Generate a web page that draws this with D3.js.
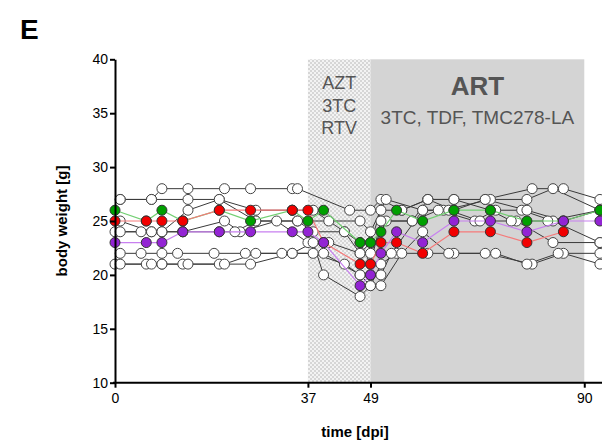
<!DOCTYPE html>
<html>
<head>
<meta charset="utf-8">
<script src="https://cdn.jsdelivr.net/npm/d3@7"></script>
<style>
  body { margin: 0; background: #fff; }
  svg { display: block; font-family: "Liberation Sans", Arial, sans-serif; }
</style>
</head>
<body>
<div id="chart"></div>
<script>
// measurement days of the coloured animals
var coloredDays = [0, 6, 9, 13, 20, 26, 34, 37, 40, 47, 49, 51, 54, 59, 65, 72, 79, 86, 93];
var greenWeights = [26, 25, 26, 25, 26, 25, 26, 25, 26, 23, 23, 24, 26, 25, 26, 26, 25, 25, 26];
var redWeights = [25, 25, 25, 25, 26, 26, 26, 26, 23, 21, 21, 23, 23, 22, 24, 24, 23, 24];
var purpleWeights = [23, 23, 23, 24, 24, 24, 24, 24, 23, 19, 20, 22, 24, 23, 25, 25, 24, 25, 25];

// other animals: [day, weight]
var mouse1 = [[1,27],[7,27],[9,28],[14,28],[21,28],[26,28],[34,28],[35,28],[45,26],[49,26],[51,27],[55,26],[60,27],[65,27],[71,27],[80,28],[86,28],[93,27]];
var mouse2 = [[1,25],[7,24],[9,24],[14,26],[20,27],[27,25],[35,25],[41,25],[47,25],[49,24],[52,27],[59,26],[63,26],[72,27],[79,27],[84,28],[93,26]];
var mouse3 = [[0,24],[5,24],[9,24],[13,24],[21,25],[24,24],[31,25],[37,23],[41,23],[47,22],[49,22],[52,25],[57,25],[62,26],[69,25],[73,26],[78,26],[84,25],[93,23]];
var mouse4 = [[1,22],[5,22],[9,22],[12,22],[19,22],[25,22],[32,22],[38,22],[44,21],[47,20],[49,19],[51,21],[54,22],[60,22],[65,22],[71,22],[80,21],[86,22],[93,21]];
var mouse5 = [[0,21],[6,21],[9,21],[13,21],[20,21],[26,21],[34,22],[38,23],[40,20],[47,18],[49,19],[51,19],[55,22],[59,24],[64,22],[73,22],[79,21],[85,22],[93,22]];
var mouse6 = [[1,21],[7,21],[9,21],[14,21],[21,21],[27,22],[34,22],[40,22],[47,20],[49,20],[51,20],[53,22],[59,26],[64,26],[70,25],[77,25],[84,23],[93,23]];
var mouse7 = [[1,24],[7,24],[9,24],[13,24],[20,24],[23,24],[27,25],[35,25],[38,24],[44,24],[47,23],[49,21],[51,25],[57,25],[60,27],[65,27],[72,26],[76,25],[83,25],[93,26]];
var mouse8 = [[1,27],[7,27],[14,27],[20,27],[27,26],[34,26],[38,26],[44,24],[47,22],[49,23],[51,26],[55,26],[60,27],[65,26],[71,27],[79,26],[86,25],[93,26]];

var yTicks = [10, 15, 20, 25, 30, 35, 40];
var xTicks = [0, 37, 49, 90];

var width = 602, height = 442;

var svg = d3.select("#chart")
  .append("svg")
    .attr("width", width)
    .attr("height", height);

var x = d3.scaleLinear().domain([0, 93.4]).range([115, 602]);
var y = d3.scaleLinear().domain([10, 40]).range([382.7, 59.3]);

// checkered pattern for first treatment period
var defs = svg.append("defs");
var pat = defs.append("pattern")
    .attr("id", "checker")
    .attr("width", 4).attr("height", 4)
    .attr("patternUnits", "userSpaceOnUse");
pat.append("rect").attr("width", 4).attr("height", 4).attr("fill", "#f3f3f3");
pat.append("rect").attr("width", 2).attr("height", 2).attr("fill", "#d6d6d6");
pat.append("rect").attr("x", 2).attr("y", 2).attr("width", 2).attr("height", 2).attr("fill", "#d6d6d6");

svg.append("rect")
    .attr("x", x(37)).attr("y", y(40))
    .attr("width", x(49) - x(37)).attr("height", y(10) - y(40))
    .attr("fill", "url(#checker)");
svg.append("rect")
    .attr("x", x(49)).attr("y", y(40))
    .attr("width", x(90) - x(49)).attr("height", y(10) - y(40))
    .attr("fill", "#d4d4d4");

// labels of the treatment periods
var cx1 = (x(37) + x(49)) / 2;
["AZT", "3TC", "RTV"].forEach(function(t, i) {
  svg.append("text")
    .attr("x", cx1).attr("y", 89 + i * 22.5)
    .attr("text-anchor", "middle")
    .attr("font-size", 18)
    .attr("fill", "#555")
    .text(t);
});
var cx2 = (x(49) + x(90)) / 2;
svg.append("text")
  .attr("x", cx2).attr("y", 94.5)
  .attr("text-anchor", "middle")
  .attr("font-size", 26).attr("font-weight", "bold")
  .attr("fill", "#555")
  .text("ART");
svg.append("text")
  .attr("x", cx2).attr("y", 124)
  .attr("text-anchor", "middle")
  .attr("font-size", 19)
  .attr("fill", "#555")
  .text("3TC, TDF, TMC278-LA");

// lines
var line = d3.line()
  .x(function(d) { return x(d[0]); })
  .y(function(d) { return y(d[1]); });

var whites = [mouse1, mouse2, mouse3, mouse4, mouse5, mouse6, mouse7, mouse8];

function pairs(days, w) {
  return w.map(function(v, i) { return [days[i], v]; });
}
var colored = [
  {pts: pairs(coloredDays, greenWeights), fill: "#00a000", stroke: "#72cf72"},
  {pts: pairs(coloredDays, redWeights), fill: "#f20000", stroke: "#f57a7a"},
  {pts: pairs(coloredDays, purpleWeights), fill: "#9324d4", stroke: "#c880f0"}
];

svg.selectAll(".wline")
  .data(whites)
  .enter()
  .append("path")
    .attr("d", line)
    .attr("fill", "none")
    .attr("stroke", "#3a3a3a")
    .attr("stroke-width", 1);

whites.forEach(function(m) {
  svg.selectAll(null)
    .data(m)
    .enter()
    .append("circle")
      .attr("cx", function(d) { return x(d[0]); })
      .attr("cy", function(d) { return y(d[1]); })
      .attr("r", 5)
      .attr("fill", "#fff")
      .attr("stroke", "#444")
      .attr("stroke-width", 1);
});

colored.forEach(function(s) {
  svg.append("path")
    .attr("d", line(s.pts))
    .attr("fill", "none")
    .attr("stroke", s.stroke)
    .attr("stroke-width", 1.2);
});
colored.forEach(function(s) {
  svg.selectAll(null)
    .data(s.pts)
    .enter()
    .append("circle")
      .attr("cx", function(d) { return x(d[0]); })
      .attr("cy", function(d) { return y(d[1]); })
      .attr("r", 5)
      .attr("fill", s.fill)
      .attr("stroke", "#333")
      .attr("stroke-width", 1);
});

// axes
var yAxis = svg.append("g")
  .attr("transform", "translate(" + x(0) + ",0)")
  .call(d3.axisLeft(y).tickValues(yTicks).tickSize(5).tickSizeOuter(0).tickPadding(2));
var xAxis = svg.append("g")
  .attr("transform", "translate(0," + y(10) + ")")
  .call(d3.axisBottom(x).tickValues(xTicks).tickSize(5).tickSizeOuter(0).tickPadding(5));

[yAxis, xAxis].forEach(function(g) {
  g.select(".domain").attr("stroke", "#000").attr("stroke-width", 2);
  g.selectAll(".tick line").attr("stroke", "#000").attr("stroke-width", 2);
  g.selectAll(".tick text")
    .attr("fill", "#000")
    .attr("font-size", 14)
    .attr("font-family", "Liberation Sans, Arial, sans-serif");
});
xAxis.select(".domain").attr("d", "M" + (x(0) - 2) + ",0H" + width);

// titles
svg.append("text")
  .attr("x", 355).attr("y", 437)
  .attr("text-anchor", "middle")
  .attr("font-size", 15).attr("font-weight", "bold")
  .text("time [dpi]");
svg.append("text")
  .attr("transform", "translate(67," + ((y(10) + y(40)) / 2) + ") rotate(-90)")
  .attr("text-anchor", "middle")
  .attr("font-size", 15).attr("font-weight", "bold")
  .text("body weight [g]");
svg.append("text")
  .attr("x", 20).attr("y", 39)
  .attr("font-size", 28).attr("font-weight", "bold")
  .text("E");
</script>
</body>
</html>
